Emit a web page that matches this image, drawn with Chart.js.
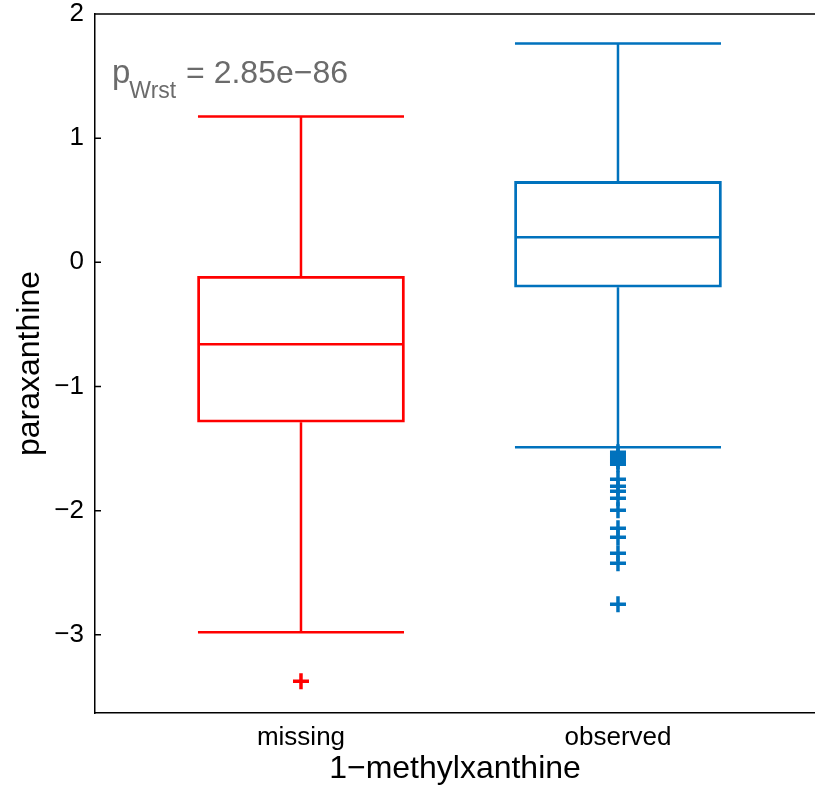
<!DOCTYPE html>
<html>
<head>
<meta charset="utf-8">
<script src="https://cdn.jsdelivr.net/npm/chart.js@4"></script>
<style>
  html, body { margin: 0; padding: 0; background: #fff; overflow: hidden; }
  canvas { display: block; }
</style>
</head>
<body>
<canvas id="boxChart" width="815" height="785"></canvas>
<script>
// data
var categories = ["missing", "observed"];
var colors = ["#FF0000", "#0072BD"];
var upperWhisker = [1.175, 1.763];
var q3 = [-0.113, 0.652];
var median = [-0.660, 0.201];
var q1 = [-1.288, -0.201];
var lowerWhisker = [-2.980, -1.490];
var outliersMissing = [-3.374];
var outliersObserved = [-1.530, -1.554, -1.578, -1.602, -1.626, -1.747, -1.804, -1.844,
                        -1.900, -1.997, -2.142, -2.214, -2.343, -2.424, -2.754];
var yTicks = [-3, -2, -1, 0, 1, 2];
var pText = "2.85e\u221286";

var halfW = 0.325;
var font = "'Liberation Sans', Arial, sans-serif";

function minus(v) { return String(v).replace("-", "\u2212"); }

function linesFor(i) {
  var x = i + 1;
  var gap = { x: x, y: null };
  return [
    { x: x - halfW, y: median[i] }, { x: x + halfW, y: median[i] }, gap,
    { x: x, y: q3[i] }, { x: x, y: upperWhisker[i] }, gap,
    { x: x - halfW, y: upperWhisker[i] }, { x: x + halfW, y: upperWhisker[i] }, gap,
    { x: x, y: q1[i] }, { x: x, y: lowerWhisker[i] }, gap,
    { x: x - halfW, y: lowerWhisker[i] }, { x: x + halfW, y: lowerWhisker[i] }
  ];
}

var datasets = [{
  type: "bar",
  data: categories.map(function (c, i) { return { x: i + 1, y: [q1[i], q3[i]] }; }),
  backgroundColor: "rgba(0,0,0,0)",
  borderColor: colors,
  borderWidth: 2.2,
  borderSkipped: false,
  barThickness: 207
}];
categories.forEach(function (c, i) {
  datasets.push({
    type: "line",
    data: linesFor(i),
    borderColor: colors[i],
    borderWidth: 2.5,
    pointRadius: 0,
    spanGaps: false,
    fill: false
  });
});
[outliersMissing, outliersObserved].forEach(function (arr, i) {
  datasets.push({
    type: "scatter",
    data: arr.map(function (v) { return { x: i + 1, y: v }; }),
    pointStyle: "cross",
    pointRadius: 8,
    borderColor: colors[i],
    borderWidth: 3.5
  });
});

function noPad(s) {
  s.paddingLeft = 0; s.paddingRight = 0; s.paddingTop = 0; s.paddingBottom = 0;
}

var framePlugin = {
  id: "frame",
  afterDraw: function (chart) {
    var ctx = chart.ctx, a = chart.chartArea, ys = chart.scales.y;
    ctx.save();
    ctx.strokeStyle = "#000";
    ctx.lineWidth = 1.5;
    ctx.beginPath();
    ctx.moveTo(a.left, a.top);
    ctx.lineTo(a.right, a.top);
    yTicks.forEach(function (t) {
      var py = ys.getPixelForValue(t);
      ctx.moveTo(a.left, py);
      ctx.lineTo(a.left + 6, py);
    });
    ctx.stroke();
    // p-value annotation
    ctx.fillStyle = "#6b6b6b";
    ctx.textBaseline = "alphabetic";
    ctx.font = "33px " + font;
    var x0 = a.left + 17, base = 83;
    ctx.fillText("p", x0, base);
    var pw = ctx.measureText("p").width;
    ctx.font = "23px " + font;
    ctx.fillText("Wrst", x0 + pw - 1, base + 15);
    var sw = ctx.measureText("Wrst").width;
    ctx.font = "32px " + font;
    ctx.fillText(" = " + pText, x0 + pw + sw, base);
    ctx.restore();
  }
};

document.addEventListener("DOMContentLoaded", function () {
  var ctx = document.getElementById("boxChart").getContext("2d");
  var chart = new Chart(ctx, {
    type: "bar",
    data: { datasets: datasets },
    options: {
      responsive: false,
      animation: false,
      layout: { autoPadding: false, padding: { top: 14, right: 0, left: 0, bottom: 0 } },
      plugins: { legend: { display: false }, tooltip: { enabled: false } },
      scales: {
        x: {
          type: "linear",
          min: 0.3502,
          max: 2.6215,
          offset: false,
          afterBuildTicks: function (s) { s.ticks = [{ value: 1 }, { value: 2 }]; },
          afterFit: function (s) { s.height = 72; noPad(s); },
          ticks: {
            autoSkip: false,
            maxRotation: 0,
            padding: 9,
            color: "#000",
            font: { family: font, size: 26 },
            callback: function (v) { return categories[v - 1]; }
          },
          grid: { display: true, drawOnChartArea: false, drawTicks: false },
          border: { display: true, color: "#000", width: 1.5 },
          title: {
            display: true,
            text: "1\u2212methylxanthine",
            color: "#000",
            font: { family: font, size: 32, lineHeight: 1.1 },
            padding: { top: 0, bottom: -2 }
          }
        },
        y: {
          min: -3.63,
          max: 2,
          afterBuildTicks: function (s) { s.ticks = yTicks.map(function (v) { return { value: v }; }); },
          afterFit: function (s) { s.width = 95; noPad(s); },
          ticks: {
            padding: 11,
            color: "#000",
            font: { family: font, size: 26 },
            callback: function (v) { return minus(v); }
          },
          grid: { display: true, drawOnChartArea: false, drawTicks: false },
          border: { display: true, color: "#000", width: 1.5 },
          title: {
            display: true,
            text: "paraxanthine",
            color: "#000",
            font: { family: font, size: 32, lineHeight: 1.1 },
            padding: { top: 13, bottom: 0 }
          }
        }
      }
    },
    plugins: [framePlugin]
  });
});
</script>
</body>
</html>
